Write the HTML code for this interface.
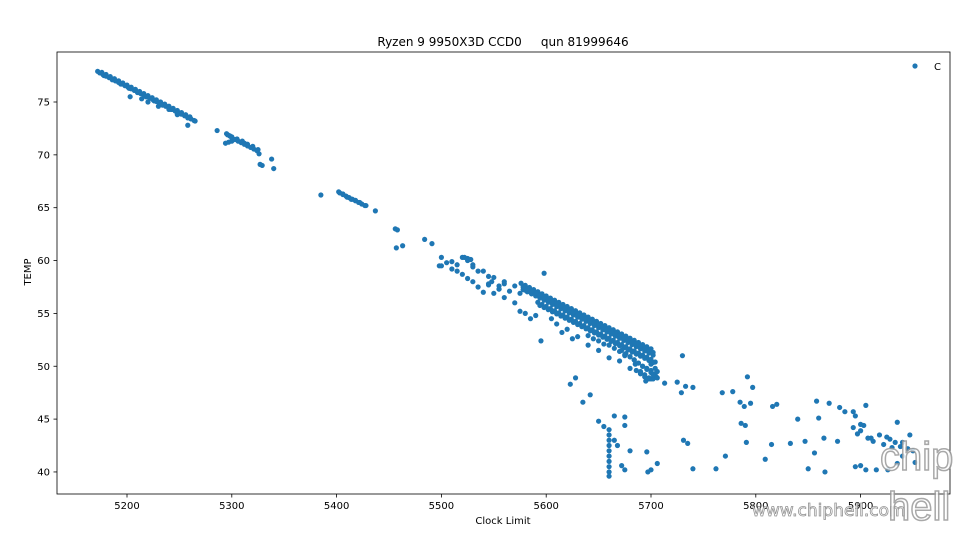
<!DOCTYPE html>
<html><head><meta charset="utf-8"><style>
body{margin:0;background:#fff;}
svg{display:block;font-family:"DejaVu Sans","Liberation Sans",sans-serif;}
</style></head><body>
<svg id="chart" width="980" height="544" viewBox="0 0 980 544">
<rect x="0" y="0" width="980" height="544" fill="#fff"/>
<text x="503" y="46" text-anchor="middle" font-size="12" fill="#000">Ryzen 9 9950X3D CCD0 &#160;&#160;&#160; qun 81999646</text>
<text x="503" y="524" text-anchor="middle" font-size="10" fill="#000">Clock Limit</text>
<text x="31" y="272" text-anchor="middle" font-size="10" fill="#000" transform="rotate(-90 31 272)">TEMP</text>
<g id="ticks"></g>
<g id="marks"></g>
<rect x="57" y="52" width="893" height="442" fill="none" stroke="#000" stroke-width="0.8"/>
<g>
<circle cx="915" cy="66" r="2.6" fill="#1f77b4"/>
<text x="934" y="70" font-size="10" fill="#000">C</text>
</g>
<text x="752" y="516" font-size="17" fill="#fff" stroke="#888" stroke-width="0.8" opacity="0.9">www.chiphell.com</text>
<g opacity="0.85">
<text x="880" y="470" font-size="40" font-family="Liberation Sans,sans-serif" fill="#fff" stroke="#999" stroke-width="1.5">chip</text>
<text x="888" y="520" font-size="40" font-family="Liberation Sans,sans-serif" fill="#fff" stroke="#999" stroke-width="1.5">hell</text>
</g>
</svg>
<script>
const xTicks=[5200,5300,5400,5500,5600,5700,5800,5900];
const yTicks=[40,45,50,55,60,65,70,75];
const xVals=[5172,5176,5180,5184,5188,5192,5196,5200,5204,5208,5212,5216,5220,5224,5228,5232,5236,5240,5244,5248,5252,5256,5260,5265,
5178,5186,5194,5202,5210,5218,5226,5234,5242,5250,5258,
5203,5220,5240,5248,5258,5214,5230,
5286,5295,5300,5305,5310,5315,5320,5325,5294,5297,5300,5326,5327,5329,5338,5340,5298,5312,
5385,5402,5406,5410,5414,5418,5422,5428,5437,5456,5458,5457,5463,5484,5491,5498,5500,
5520,5525,5530,5540,5550,5560,5570,5580,5590,
5545,5555,5565,5575,
5500,5505,5510,5515,5520,5525,5530,5535,5540,5545,5550,5555,5560,5570,5575,5580,5585,5590,5595,5598,5605,5610,5615,5620,5625,5630,5640,5650,5660,5670,5680,5690,5700,5705,5695,5685,5675,
5623,5628,5635,5642,5650,5655,5660,5660,5660,5660,5660,5660,5660,5660,5660,5660,5665,5675,5675,5665,5668,5672,5675,5680,5696,5697,5700,5706,5731,5735,5740,5762,5771,
5730,5713,5725,5733,5740,5729,5768,5778,5785,5789,5792,5797,5795,5786,5790,5816,5820,5840,5858,5860,5870,5880,5885,5893,5895,5905,5900,5910,5925,5935,5940,
5893,5897,5900,5903,5907,5912,5918,5922,5928,5933,5938,5945,
5791,5815,5833,5847,5865,5878,5809,5850,5866,5856,5895,5900,5905,5915,5926,5930,5935,5947,5950,5952,5940,
5174,5177,5180,5183,5186,5189,5192,5195,5198,5201,5204,5207,5210,5213,5216,5219,5222,5225,5228,5231,5234,5237,5240,5243,5246,5249,5252,5255,5258,5261,5264,
5296,5298,5300,5303,5306,5309,5312,5315,5318,5321,5324,
5403,5406,5409,5412,5415,5418,5421,5424,5427,
5576,5580,5584,5588,5592,5596,5600,5604,5608,5612,5616,5620,5624,5628,5632,5636,5640,5644,5648,5652,5656,5660,5664,5668,5672,5676,5680,5684,5688,5692,5696,5700,
5578,5582,5586,5590,5594,5598,5602,5606,5610,5614,5618,5622,5626,5630,5634,5638,5642,5646,5650,5654,5658,5662,5666,5670,5674,5678,5682,5686,5690,5694,5698,5702,
5592,5596,5600,5604,5608,5612,5616,5620,5624,5628,5632,5636,5640,5644,5648,5652,5656,5660,5664,5668,5672,5676,5680,5684,5688,5692,5696,5700,
5660,5665,5670,5675,5680,5684,5688,5692,5696,5700,5704,5690,5694,5698,5702,5706,5700,5704,5650,5655,5640,5645,
5522,5525,5528,5510,5515,5530,5535,5545,5548,5555,5560,
5578,5582,5586,5590,5594,5598,5602,5606,5610,5614,5618,5622,5626,5630,5634,5638,5642,5646,5650,5654,5658,5662,5666,5670,5674,5678,5682,5686,5690,5694,5698,5702,
5594,5598,5602,5606,5610,5614,5618,5622,5626,5630,5634,5638,5642,5646,5650,5654,5658,5662,5666,5670,5674,5678,5682,5686,5690,5694,5698,5702,
5672,5676,5680,5684,5688,5692,5696,5700,5704,5686,5690,5694,5698,5702,5706];
const yVals=[77.9,77.8,77.6,77.4,77.2,77.0,76.8,76.6,76.4,76.2,76.0,75.8,75.6,75.4,75.2,75.0,74.8,74.6,74.4,74.2,74.0,73.8,73.6,73.2,
77.5,77.1,76.7,76.3,75.9,75.5,75.1,74.7,74.3,73.9,73.5,
75.5,75.0,74.3,73.8,72.8,75.3,74.6,
72.3,72.0,71.7,71.5,71.3,71.0,70.8,70.5,71.1,71.2,71.3,70.1,69.1,69.0,69.6,68.7,71.8,71.1,
66.2,66.5,66.3,66.0,65.8,65.7,65.5,65.2,64.7,63.0,62.9,61.2,61.4,62.0,61.6,59.5,60.3,
60.3,60.0,59.6,59.0,58.4,57.8,57.6,57.2,56.8,
57.7,57.3,57.1,56.9,
59.5,59.8,59.2,59.0,58.7,58.3,58.0,57.5,57.0,57.8,56.9,57.3,56.5,56.0,55.2,55.0,54.5,54.8,52.4,58.8,54.5,54.0,53.2,53.5,52.6,52.8,52.0,51.5,50.8,50.5,49.8,49.3,48.8,49.0,48.6,50.2,51.0,
48.3,48.9,46.6,47.3,44.8,44.3,44.0,43.5,43.0,42.5,42.0,41.5,41.0,40.5,40.0,39.6,45.3,45.2,44.4,43.0,42.5,40.6,40.2,42.0,41.9,40.0,40.2,40.8,43.0,42.7,40.3,40.3,41.5,
51.0,48.4,48.5,48.1,48.0,47.5,47.5,47.6,46.6,46.2,49.0,48.0,46.5,44.6,44.4,46.2,46.4,45.0,46.7,45.1,46.5,46.1,45.7,45.7,45.3,46.3,44.5,43.2,43.3,44.7,42.8,
44.2,43.6,43.9,44.4,43.2,42.9,43.5,42.6,43.1,42.8,42.4,42.2,
42.8,42.6,42.7,42.9,43.2,42.9,41.2,40.3,40.0,41.8,40.5,40.6,40.2,40.2,40.2,42.3,40.8,43.5,42.0,40.9,41.5,
77.75,77.6,77.45,77.3,77.15,77.0,76.85,76.7,76.55,76.4,76.25,76.1,75.95,75.8,75.65,75.5,75.35,75.2,75.05,74.9,74.75,74.6,74.45,74.3,74.15,74.0,73.85,73.7,73.55,73.4,73.25,
71.9,71.8,71.6,71.45,71.3,71.15,71.0,70.85,70.7,70.55,70.4,
66.4,66.25,66.1,65.95,65.8,65.65,65.5,65.35,65.2,
57.85,57.65,57.45,57.25,57.05,56.85,56.65,56.45,56.25,56.05,55.85,55.65,55.45,55.25,55.05,54.85,54.65,54.45,54.25,54.05,53.85,53.65,53.45,53.25,53.05,52.85,52.65,52.45,52.25,52.05,51.85,51.65,
57.25,57.05,56.85,56.65,56.45,56.25,56.05,55.85,55.65,55.45,55.25,55.05,54.85,54.65,54.45,54.25,54.05,53.85,53.65,53.45,53.25,53.05,52.85,52.65,52.45,52.25,52.05,51.85,51.65,51.45,51.25,51.05,
56.05,55.85,55.65,55.45,55.25,55.05,54.85,54.65,54.45,54.25,54.05,53.85,53.65,53.45,53.25,53.05,52.85,52.65,52.45,52.25,52.05,51.85,51.65,51.45,51.25,51.05,50.85,50.65,
52.0,51.7,51.4,51.1,50.9,50.6,50.3,50.0,49.8,49.6,49.3,49.5,49.2,48.9,48.8,48.9,50.2,50.4,52.4,52.1,52.9,52.6,
60.3,60.2,60.1,59.9,59.6,59.4,59.0,58.5,58.0,57.6,58.0,
57.5,57.3,57.1,56.9,56.7,56.5,56.3,56.1,55.9,55.7,55.5,55.3,55.1,54.9,54.7,54.5,54.3,54.1,53.9,53.7,53.5,53.3,53.1,52.9,52.7,52.5,52.3,52.1,51.9,51.7,51.5,51.3,
55.75,55.55,55.35,55.15,54.95,54.75,54.55,54.35,54.15,53.95,53.75,53.55,53.35,53.15,52.95,52.75,52.55,52.35,52.15,51.95,51.75,51.55,51.35,51.15,50.95,50.75,50.55,50.35,
51.5,51.2,50.9,50.6,50.3,50.0,49.7,49.4,49.8,49.6,49.3,49.0,48.8,49.2,49.5];
const xs=v=>127+(v-5200)*1.048;
const ys=v=>102-(v-75)*10.57;
const NS='http://www.w3.org/2000/svg';
const tg=document.getElementById('ticks');
xTicks.forEach(t=>{
  const l=document.createElementNS(NS,'line');
  
  
  l.setAttribute('x1',xs(t));l.setAttribute('x2',xs(t));l.setAttribute('y1',494);l.setAttribute('y2',497.5);l.setAttribute('stroke','#000');l.setAttribute('stroke-width','0.8');
  tg.appendChild(l);
  const tx=document.createElementNS(NS,'text');
  
  
  tx.setAttribute('x',xs(t));tx.setAttribute('y',509);tx.setAttribute('text-anchor','middle');tx.setAttribute('font-size','10');
  tx.textContent=t;tg.appendChild(tx);
});
yTicks.forEach(t=>{
  const l=document.createElementNS(NS,'line');
  
  
  l.setAttribute('x1',53.5);l.setAttribute('x2',57);l.setAttribute('y1',ys(t));l.setAttribute('y2',ys(t));l.setAttribute('stroke','#000');l.setAttribute('stroke-width','0.8');
  tg.appendChild(l);
  const tx=document.createElementNS(NS,'text');
  
  
  tx.setAttribute('x',50);tx.setAttribute('y',ys(t)+3.5);tx.setAttribute('text-anchor','end');tx.setAttribute('font-size','10');
  tx.textContent=t;tg.appendChild(tx);
});
const mg=document.getElementById('marks');
xVals.forEach((x,i)=>{
  const c=document.createElementNS(NS,'circle');
  
  
  c.setAttribute('cx',xs(x));c.setAttribute('cy',ys(yVals[i]));c.setAttribute('r',2.6);c.setAttribute('fill','#1f77b4');
  mg.appendChild(c);
});
</script>
</body></html>
